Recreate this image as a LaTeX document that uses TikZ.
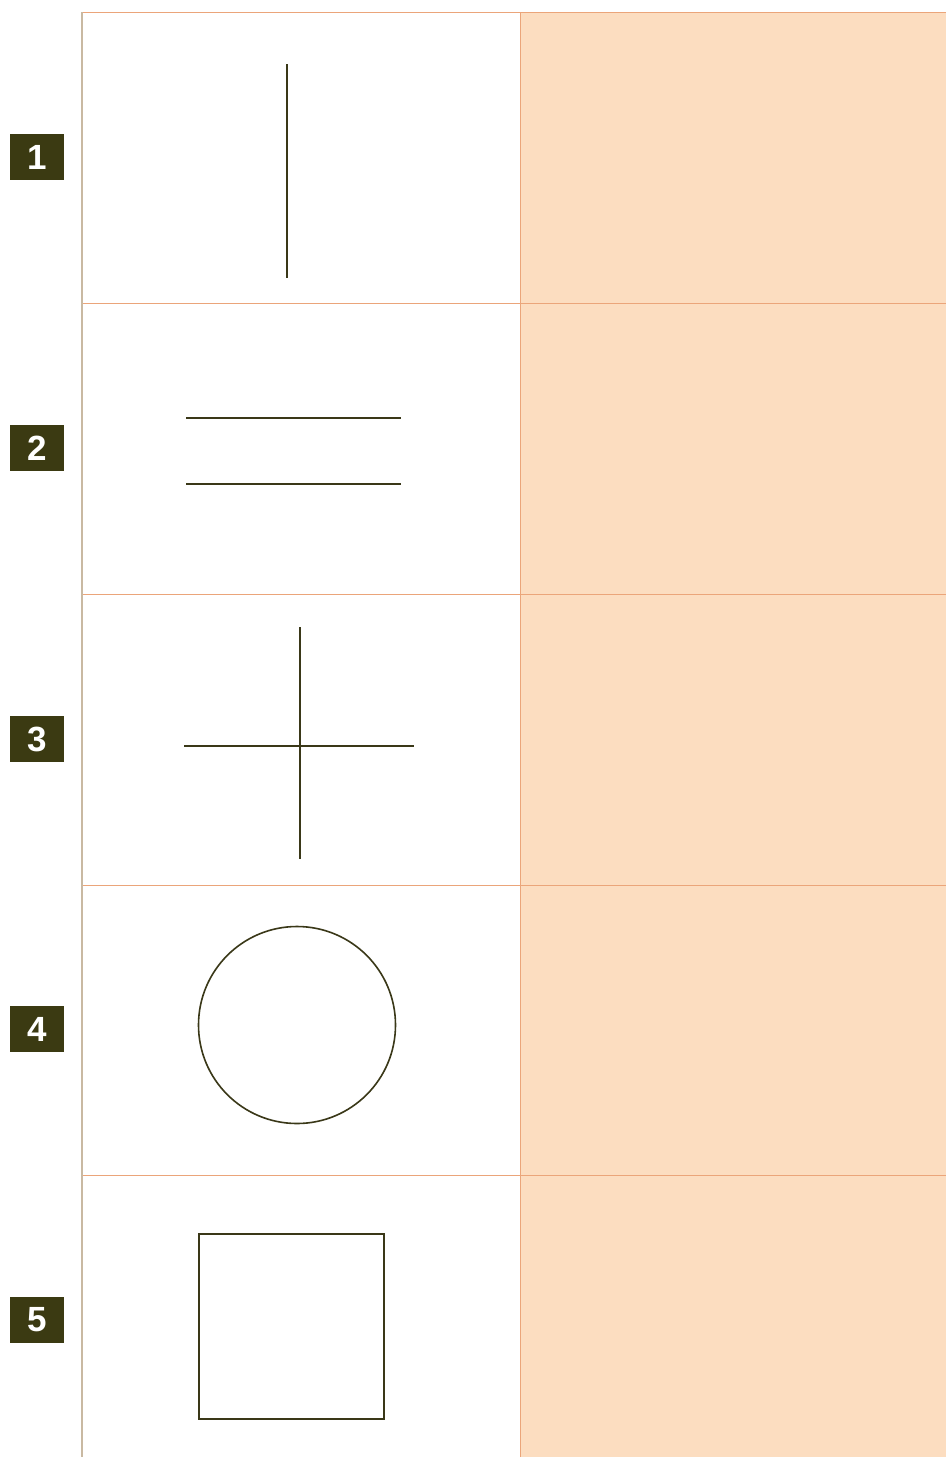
\documentclass[tikz,border=0pt]{standalone}
\usepackage{fontspec}
\setmainfont{Liberation Sans}
\definecolor{peach}{HTML}{FCDDC0}
\definecolor{rule}{HTML}{EBA57A}
\definecolor{frame}{HTML}{C9B9A2}
\definecolor{ink}{HTML}{3A3818}
\definecolor{badge}{HTML}{3B3A12}
\begin{document}
\begin{tikzpicture}[x=1pt,y=-1pt,
  figline/.style={draw=ink,line width=1.6pt},
  badgebox/.style={fill=badge,minimum width=54pt,minimum height=46pt,inner sep=0pt,
    text=white,font=\bfseries\fontsize{35}{35}\selectfont}]
\useasboundingbox (0,0) rectangle (946,1457);
\fill[white] (0,0) rectangle (946,1457);
% right column
\fill[peach] (520,12) rectangle (946,1457);
% row rules
\foreach \y in {12.5,303.5,594.5,885.5,1175.5}
  \draw[rule,line width=1.1pt] (82,\y) -- (946,\y);
\draw[rule,line width=1pt] (520.5,12) -- (520.5,1457);
\draw[frame,line width=1.4pt] (82,12) -- (82,1457);
% badges
\node[badgebox] (b1) at (37,157) {1};
\node[badgebox] (b2) at (37,448) {2};
\node[badgebox] (b3) at (37,739) {3};
\node[badgebox] (b4) at (37,1029) {4};
\node[badgebox] (b5) at (37,1320) {5};
% figures
\draw[figline] (287,64) -- (287,278);
\draw[figline] (186,418) -- (401,418);
\draw[figline] (186,484) -- (401,484);
\draw[figline] (300,627) -- (300,859);
\draw[figline] (184,746) -- (414,746);
\draw[figline] (297,1025) circle[radius=98.5];
\draw[figline] (199,1234) rectangle (384,1419);
\end{tikzpicture}
\end{document}
